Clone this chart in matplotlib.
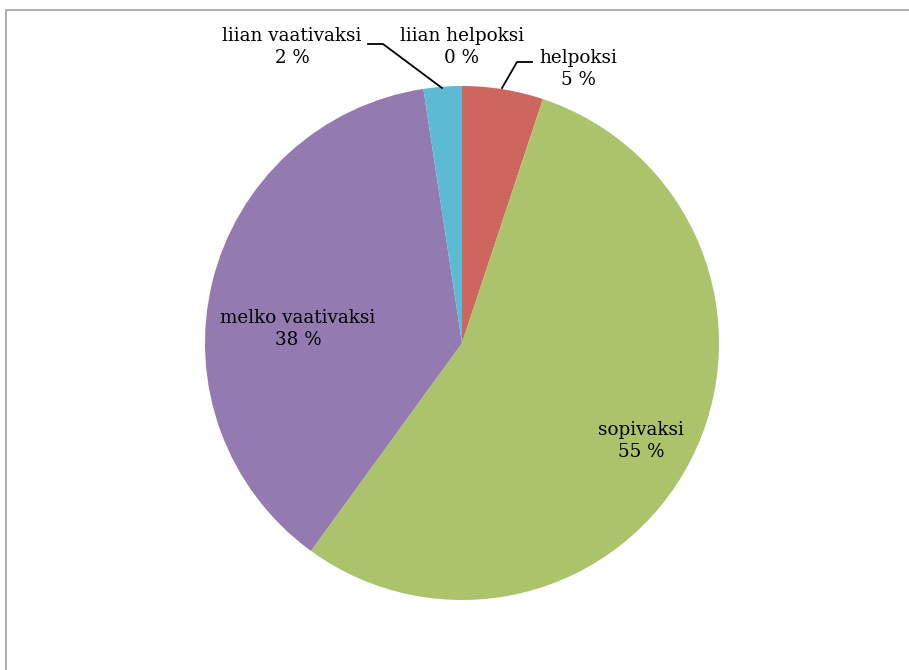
import matplotlib.pyplot as plt
from matplotlib.patches import Rectangle

# data
categories = ['liian helpoksi', 'helpoksi', 'sopivaksi', 'melko vaativaksi', 'liian vaativaksi']
shares = [0.0, 5.1, 54.9, 37.6, 2.4]
pct_labels = ['0 %', '5 %', '55 %', '38 %', '2 %']
colors = ['#4F81BD', '#CD665F', '#ABC46C', '#937AB1', '#5DBAD3']

W, H = 909, 670
cx, cy, r = 462, 343, 257

fig = plt.figure(figsize=(W / 100, H / 100), dpi=100)
plt.rcParams['font.family'] = ['DejaVu Serif']

# chart frame (right/bottom run off the picture)
fig.patches.append(Rectangle((6 / W, -0.1), 1.2, (H - 10) / H + 0.1,
                             transform=fig.transFigure, fill=False,
                             edgecolor='#A0A0A0', linewidth=1.2))

ax = fig.add_axes([(cx - r) / W, (H - cy - r) / H, 2 * r / W, 2 * r / H])
ax.pie(shares, colors=colors, startangle=90, counterclock=False, radius=1,
       wedgeprops=dict(linewidth=0))
ax.set_xlim(-1, 1)
ax.set_ylim(-1, 1)
ax.set_aspect('equal')
ax.axis('off')


def px(x, y):
    return (x - cx) / r, (cy - y) / r


# label placement in pixels (layout only)
label_pos = {
    'liian helpoksi': (462, 47),
    'helpoksi': (578, 69),
    'sopivaksi': (641, 441),
    'melko vaativaksi': (298, 329),
    'liian vaativaksi': (292, 47),
}
for name, pct in zip(categories, pct_labels):
    x, y = px(*label_pos[name])
    ax.text(x, y, name + '\n' + pct, ha='center', va='center',
            fontsize=13.2, linespacing=1.22, color='black', clip_on=False)

# leader lines
lx, ly = zip(*[px(368, 44), px(383, 44), px(442, 88)])
ax.plot(lx, ly, color='black', lw=1.3, clip_on=False)
lx, ly = zip(*[px(502, 88), px(517, 62), px(532, 62)])
ax.plot(lx, ly, color='black', lw=1.3, clip_on=False)

fig.savefig('out.png', dpi=100)
